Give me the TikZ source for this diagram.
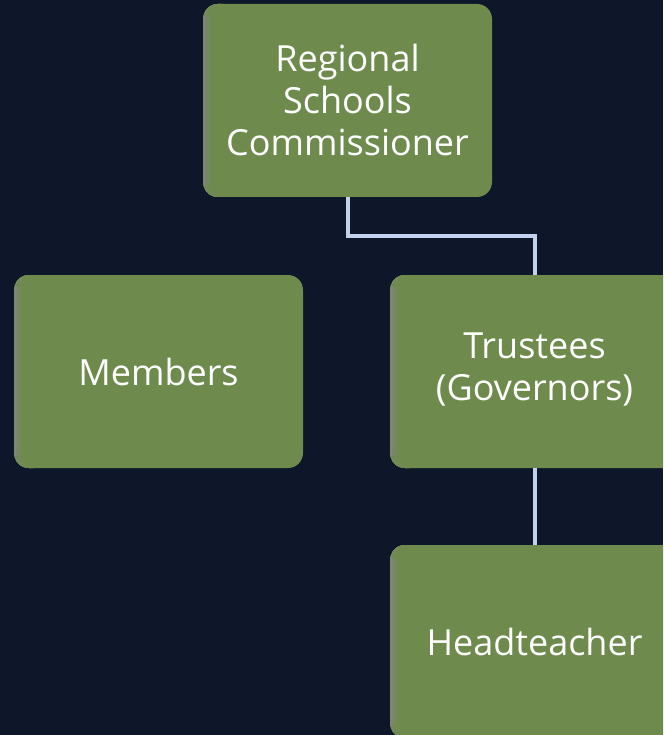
\documentclass[tikz,border=0pt]{standalone}
\usepackage{fontspec}
\setmainfont{Open Sans}
\definecolor{bgnavy}{HTML}{0E1629}
\definecolor{boxgreen}{HTML}{6E8B4D}
\definecolor{edgegray}{HTML}{80857A}
\definecolor{linkblue}{HTML}{C3D1EC}
\tikzset{
  orgbox/.style={rectangle, rounded corners=15pt, fill=boxgreen,
    minimum width=289pt, minimum height=193pt, inner sep=0pt,
    text=white, align=center, font=\fontsize{36}{42}\selectfont,
    path picture={
      \fill[edgegray!85!boxgreen] (path picture bounding box.south west) rectangle
        ([xshift=2pt]path picture bounding box.north west);
      \fill[edgegray!60!boxgreen] ([xshift=2pt]path picture bounding box.south west) rectangle
        ([xshift=4pt]path picture bounding box.north west);
      \fill[edgegray!35!boxgreen] ([xshift=4pt]path picture bounding box.south west) rectangle
        ([xshift=6pt]path picture bounding box.north west);
      \fill[edgegray!15!boxgreen] ([xshift=6pt]path picture bounding box.south west) rectangle
        ([xshift=8pt]path picture bounding box.north west);}},
  link/.style={draw=linkblue, line width=4pt}
}
\begin{document}
\begin{tikzpicture}[x=1pt,y=-1pt]
\fill[bgnavy] (0,0) rectangle (663,735);
\useasboundingbox (0,0) rectangle (663,735);
\clip (0,0) rectangle (663,735);
\node[orgbox] (rsc) at (347.5,100.5) {Regional\\Schools\\Commissioner};
\node[orgbox] (members) at (158.5,371.5) {Members};
\node[orgbox] (trustees) at (534.5,371.5) {\raisebox{3pt}{\begin{tabular}{@{}c@{}}Trustees\\(Governors)\end{tabular}}};
\node[orgbox] (head) at (534.5,641.5) {Headteacher};
\coordinate (bend) at (0,236);
\draw[link] (rsc.south) -- (rsc.south |- bend) -| (trustees.north);
\draw[link] (trustees.south) -- (head.north);
\end{tikzpicture}
\end{document}
